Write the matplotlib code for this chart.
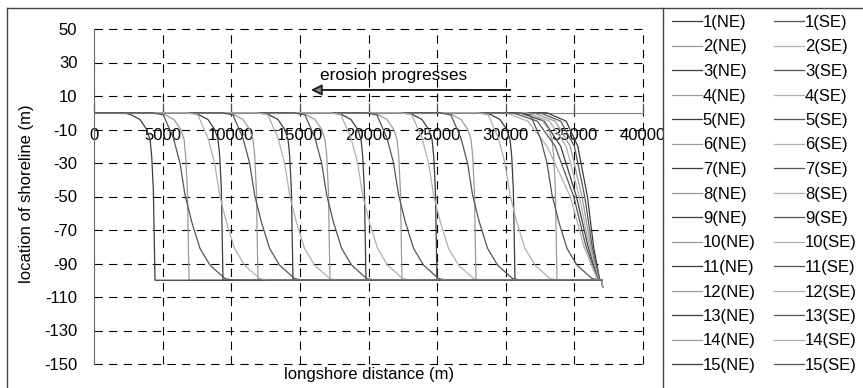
import matplotlib
matplotlib.use('Agg')
import matplotlib.pyplot as plt
from matplotlib.lines import Line2D
from matplotlib.patches import FancyArrowPatch

plt.rcParams['font.family'] = ['Liberation Sans', 'DejaVu Sans']
plt.rcParams['lines.scale_dashes'] = False

# ---------------- data ----------------
X_TICKS = [0, 5000, 10000, 15000, 20000, 25000, 30000, 35000, 40000]
Y_TICKS = [50, 30, 10, -10, -30, -50, -70, -90, -110, -130, -150]

NE_LABELS = [f"{i}(NE)" for i in range(1, 16)]
SE_LABELS = [f"{i}(SE)" for i in range(1, 16)]

# steep front profile (offset from vertical front, m)
STEEP_DX = [-2300, -1800, -1100, -600, -360, -240, -120, 0]
STEEP_Y = [0, -1, -4, -10, -16, -26, -46, -100]

# smooth S-shaped front profile (offset from mid point, m)
S_DX = [-2400, -1580, -850, -364, 0, 486, 1093, 1822, 2914, 3550]
S_Y = [0, -1.3, -15, -30, -49, -65, -81, -91, -99, -100]

# early curves fanned near the east end (x at levels FAN_Y)
FAN_Y = [0, -5, -20, -50, -80, -100]
NE_FAN = [
    [33000, 34400, 35250, 35950, 36400, 36850],
    [32000, 33600, 34700, 35550, 36200, 36800],
    [31000, 32800, 34000, 35150, 36000, 36750],
]
SE_FAN = [
    [32500, 34000, 35000, 35750, 36300, 36850],
    [31500, 33200, 34400, 35350, 36100, 36800],
    [30500, 32300, 33600, 34950, 35850, 36750],
    [30000, 31600, 33000, 34700, 35700, 36700],
]
# front positions of the later (moving) curves
NE_FRONTS = [33734, 30674, 27833, 24991, 22441, 19818, 17195, 14499,
             11949, 9399, 6922, 4444]
SE_FRONTS = [33370, 30310, 27580, 24740, 22190, 19570, 16950, 14250,
             11700, 9150, 6630]

END_X = 37000
TAIL_X, TAIL_Y = 37060, -104

# ---------------- styles ----------------
NE_COLORS = ['#3c3c3c' if i % 2 == 0 else '#9a9a9a' for i in range(15)]
SE_COLORS = ['#555555' if i % 2 == 0 else '#b0b0b0' for i in range(15)]


def fan_curve(xs):
    return [0] + xs + [END_X, TAIL_X], [0] + FAN_Y + [-100, TAIL_Y]


def steep_curve(p):
    return [0] + [p + d for d in STEEP_DX] + [END_X], [0] + STEEP_Y + [-100]


def s_curve(p):
    return [0] + [p + d for d in S_DX] + [END_X], [0] + S_Y + [-100]


ne_curves = [fan_curve(f) for f in NE_FAN] + [steep_curve(p) for p in NE_FRONTS]
se_curves = [fan_curve(f) for f in SE_FAN] + [s_curve(p) for p in SE_FRONTS]

W, H = 863, 388
fig = plt.figure(figsize=(W / 100, H / 100), dpi=100)
L, R, T, B = 94, 643, 29, 364
ax = fig.add_axes([L / W, 1 - B / H, (R - L) / W, (B - T) / H])
ax.set_xlim(0, 40000)
ax.set_ylim(-150, 50)

dash = (0, (6, 4.5))
for x in X_TICKS[1:]:
    ax.plot([x, x], [-150, 50], color='black', lw=0.8, linestyle=dash,
            clip_on=False, zorder=1)
for y in Y_TICKS:
    ax.plot([0, 40000], [y, y], color='black', lw=0.8, linestyle=dash,
            clip_on=False, zorder=1)

handles = []
for (xs, ys), c in zip(ne_curves, NE_COLORS):
    h, = ax.plot(xs, ys, color=c, lw=0.9, zorder=3)
    handles.append(h)
for (xs, ys), c in zip(se_curves, SE_COLORS):
    h, = ax.plot(xs, ys, color=c, lw=0.9, zorder=3)
    handles.append(h)

for s in ['top', 'right']:
    ax.spines[s].set_visible(False)
ax.spines['bottom'].set_position(('data', 0))
ax.spines['bottom'].set_color('#808080')
ax.spines['left'].set_color('#666666')
ax.spines['bottom'].set_zorder(2)

ax.set_xticks(X_TICKS)
ax.set_xticklabels([str(v) for v in X_TICKS])
ax.set_yticks(Y_TICKS)
ax.set_yticklabels([str(v) for v in Y_TICKS])
ax.tick_params(axis='x', direction='in', length=7, width=0.9, color='#555555',
               pad=11, labelsize=12)
ax.tick_params(axis='y', length=0, pad=12, labelsize=12)

fig.text(27 / W, 1 - 194 / H, 'location of shoreline (m)', rotation=90,
         ha='center', va='center', fontsize=12)
fig.text(369 / W, 1 - 375 / H, 'longshore distance (m)', ha='center',
         va='center', fontsize=12)

ax.text(16466, 22.5, 'erosion progresses', ha='left', va='center', fontsize=12.4)
arrow = FancyArrowPatch((30530, 13.6), (15590, 13.6), arrowstyle='-|>',
                        mutation_scale=16, lw=1.4, edgecolor='#222222',
                        facecolor='#8a8a8a', zorder=4)
ax.add_patch(arrow)

# legend panel (white background clips the end of the last tick label)
fig.add_artist(matplotlib.patches.Rectangle((663 / W, 0), 1 - 663 / W,
                                            1 - 8 / H, transform=fig.transFigure,
                                            facecolor='white', edgecolor='none',
                                            zorder=5))

labels = NE_LABELS + SE_LABELS
leg = fig.legend(handles, labels, ncol=2, loc='upper left',
                 bbox_to_anchor=(672 / W, 1 - 15 / H), frameon=False,
                 borderpad=0, borderaxespad=0, handlelength=1.8,
                 handletextpad=0.05, columnspacing=1.1, labelspacing=0.57,
                 fontsize=12)
leg.set_zorder(6)

for (x0, y0, x1, y1) in [(7, 8, 7, 388), (7, 8, 863, 8), (663, 8, 663, 388)]:
    fig.add_artist(Line2D([x0 / W, x1 / W], [1 - y0 / H, 1 - y1 / H],
                          transform=fig.transFigure, color='#444444', lw=1,
                          zorder=7))

fig.savefig('out.png', dpi=100)
